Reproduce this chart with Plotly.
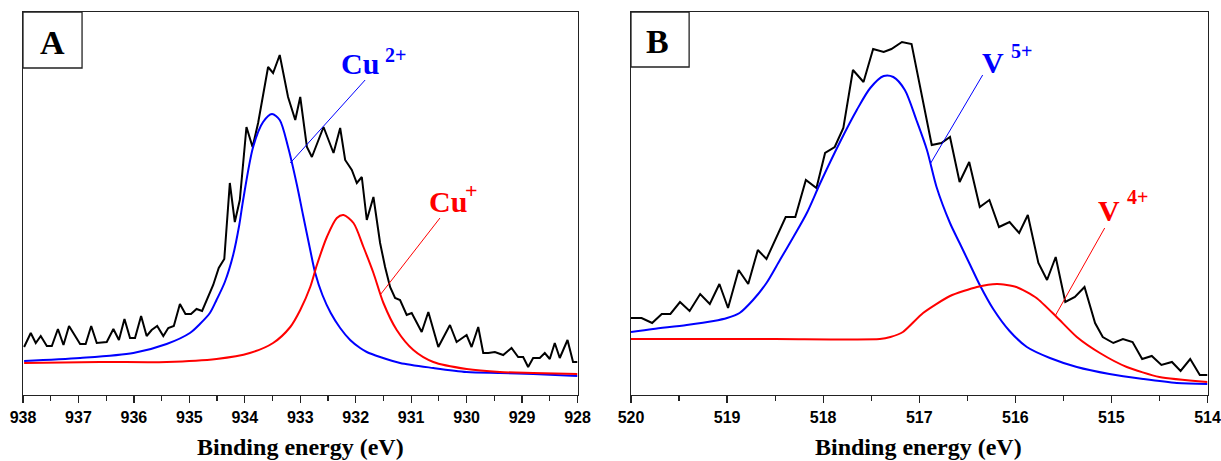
import plotly.graph_objects as go

# ---------------- Panel A : Cu 2p ----------------
a_be = [937.98, 937.86, 937.77, 937.68, 937.57, 937.48, 937.37, 937.27, 937.17, 936.97,
        936.87, 936.77, 936.67, 936.49, 936.37, 936.27, 936.17, 936.07, 935.98, 935.87,
        935.77, 935.68, 935.58, 935.47, 935.38, 935.28, 935.17, 935.07, 934.97, 934.87,
        934.77, 934.68, 934.57, 934.47, 934.37, 934.27, 934.18, 934.09, 933.97, 933.86,
        933.76, 933.58, 933.49, 933.37, 933.22, 933.09, 933.00, 932.88, 932.79, 932.58,
        932.40, 932.28, 932.19, 932.07, 931.98, 931.89, 931.80, 931.68, 931.56, 931.47,
        931.38, 931.29, 931.20, 931.08, 930.99, 930.81, 930.69, 930.51, 930.30, 930.18,
        930.00, 929.91, 929.79, 929.70, 929.61, 929.49, 929.34, 929.19, 929.07, 928.98,
        928.89, 928.80, 928.68, 928.59, 928.50, 928.41, 928.32, 928.18, 928.08, 928.00]
a_raw = [48, 62, 52, 59, 49, 49, 66, 50, 69, 51,
         51, 69, 52, 53, 66, 55, 76, 57, 57, 79,
         59, 65, 69, 59, 67, 69, 91, 81, 81, 86,
         84, 95, 110, 127, 136, 212, 173, 195, 268, 248,
         272, 328, 322, 340, 298, 275, 298, 248, 238, 268,
         242, 267, 235, 225, 212, 218, 175, 198, 152, 128,
         108, 97, 95, 80, 82, 63, 83, 48, 70, 53,
         60, 48, 68, 42, 42, 43, 40, 47, 38, 38,
         28, 37, 37, 42, 36, 52, 37, 55, 33, 33]

a_cu2_be = [937.98, 936.97, 936.01, 935.41, 934.99, 934.81, 934.63, 934.51, 934.36, 934.21,
            934.10, 934.03, 933.85, 933.67, 933.51, 933.37, 933.22, 933.06, 932.95, 932.82,
            932.73, 932.60, 932.45, 932.28, 932.10, 931.92, 931.80, 931.56, 931.20, 930.60,
            930.00, 929.40, 928.80, 928.00]
a_cu2 = [34, 37, 42, 51, 62, 71, 82, 95, 113, 140,
         170, 195, 248, 273, 281, 275, 248, 210, 180, 145,
         122, 100, 82, 67, 55, 47, 43, 38, 32, 27,
         23, 22, 21, 19]

a_cu1_be = [937.98, 936.61, 935.41, 934.51, 933.91, 933.49, 933.18, 933.00, 932.82, 932.70,
            932.52, 932.34, 932.22, 932.04, 931.86, 931.68, 931.50, 931.26, 930.96, 930.60,
            930.00, 929.40, 928.80, 928.00]
a_cu1 = [32, 33, 33, 36, 42, 52, 68, 85, 108, 130,
         158, 177, 180, 172, 148, 122, 92, 65, 45, 33,
         26, 23, 22, 21]

# ---------------- Panel B : V 2p3/2 ----------------
b_be = [520.00, 519.89, 519.78, 519.68, 519.59, 519.49, 519.39, 519.28, 519.18, 519.08,
        518.99, 518.88, 518.78, 518.68, 518.59, 518.48, 518.39, 518.29, 518.18, 518.07,
        517.98, 517.88, 517.79, 517.69, 517.58, 517.48, 517.37, 517.29, 517.18, 517.08,
        516.87, 516.77, 516.68, 516.58, 516.48, 516.37, 516.27, 516.17, 516.06, 515.96,
        515.87, 515.76, 515.67, 515.58, 515.48, 515.38, 515.28, 515.17, 515.09, 514.98,
        514.88, 514.78, 514.68, 514.58, 514.48, 514.37, 514.28, 514.18, 514.08, 514.00]
b_raw = [77, 77, 72, 81, 81, 93, 84, 101, 91, 111,
         87, 125, 111, 145, 136, 160, 178, 178, 215, 207,
         242, 248, 267, 325, 313, 346, 343, 346, 353, 351,
         250, 252, 258, 213, 233, 188, 195, 168, 173, 162,
         180, 132, 115, 138, 93, 98, 108, 72, 58, 52,
         56, 53, 36, 39, 30, 33, 24, 36, 20, 20]

b_v5_be = [520.00, 519.77, 519.42, 519.14, 519.00, 518.87, 518.73, 518.59, 518.45, 518.31,
           518.17, 518.03, 517.83, 517.65, 517.51, 517.37, 517.27, 517.15, 517.03, 516.92,
           516.82, 516.68, 516.58, 516.47, 516.37, 516.23, 516.06, 515.88, 515.64, 515.36,
           515.02, 514.67, 514.32, 514.00]
b_v5 = [63, 66, 70, 74, 77, 82, 95, 112, 135, 158,
        182, 212, 252, 285, 307, 319, 318, 305, 275, 245,
        208, 172, 152, 130, 110, 86, 64, 48, 37, 28,
        21, 16, 12, 11]

b_v4_be = [520.00, 518.50, 517.41, 517.30, 517.17, 516.96, 516.68, 516.40, 516.19, 515.99,
           515.78, 515.57, 515.36, 515.12, 514.84, 514.50, 514.00]
b_v4 = [56, 56, 56, 58, 63, 82, 99, 108, 111, 108,
        97, 78, 58, 42, 28, 18, 13]

a_ticks = [938, 937, 936, 935, 934, 933, 932, 931, 930, 929, 928]
b_ticks = [520, 519, 518, 517, 516, 515, 514]

BLUE = "#0000FF"
RED = "#FF0000"
SERIF = "Liberation Serif"

fig = go.Figure()
fig.add_trace(go.Scatter(x=a_be, y=a_raw, mode="lines", line=dict(color="black", width=2),
                         xaxis="x", yaxis="y", showlegend=False))
fig.add_trace(go.Scatter(x=a_cu2_be, y=a_cu2, mode="lines",
                         line=dict(color=BLUE, width=2, shape="spline", smoothing=0.8),
                         xaxis="x", yaxis="y", showlegend=False))
fig.add_trace(go.Scatter(x=a_cu1_be, y=a_cu1, mode="lines",
                         line=dict(color=RED, width=2, shape="spline", smoothing=0.8),
                         xaxis="x", yaxis="y", showlegend=False))
fig.add_trace(go.Scatter(x=b_be, y=b_raw, mode="lines", line=dict(color="black", width=2),
                         xaxis="x2", yaxis="y2", showlegend=False))
fig.add_trace(go.Scatter(x=b_v5_be, y=b_v5, mode="lines",
                         line=dict(color=BLUE, width=2, shape="spline", smoothing=0.8),
                         xaxis="x2", yaxis="y2", showlegend=False))
fig.add_trace(go.Scatter(x=b_v4_be, y=b_v4, mode="lines",
                         line=dict(color=RED, width=2, shape="spline", smoothing=0.6),
                         xaxis="x2", yaxis="y2", showlegend=False))

W, H = 1221, 461
axis_common = dict(showline=True, mirror=True, linecolor="#222", linewidth=1.3,
                   showgrid=False, zeroline=False, ticks="outside", ticklen=7,
                   tickwidth=1.2, tickcolor="#222", automargin=False,
                   tickfont=dict(family="Liberation Sans", size=16, color="black", weight="bold"),
                   minor=dict(dtick=0.5, ticks="outside", ticklen=5, tickwidth=1.2, tickcolor="#222"))
yaxis_common = dict(showline=True, mirror=True, linecolor="#222", linewidth=1.3,
                    showgrid=False, zeroline=False, showticklabels=False, ticks="",
                    range=[0, 383], automargin=False)

fig.update_layout(
    width=W, height=H,
    margin=dict(l=0, r=0, t=12, b=66, autoexpand=False),
    paper_bgcolor="white", plot_bgcolor="white",
    hovermode=False,
    xaxis=dict(domain=[23 / W, 577.5 / W], range=[938, 928], tickvals=a_ticks,
               anchor="y", **axis_common),
    yaxis=dict(domain=[0, 1], anchor="x", **yaxis_common),
    xaxis2=dict(domain=[631 / W, 1207.5 / W], range=[520, 514], tickvals=b_ticks,
                anchor="y2", **axis_common),
    yaxis2=dict(domain=[0, 1], anchor="x2", **yaxis_common),
)

shapes = [
    # panel label boxes
    dict(type="rect", xref="x", yref="y", x0=938, x1=936.935, y0=327, y1=383,
         line=dict(color="#222", width=1.3), fillcolor="white"),
    dict(type="rect", xref="x2", yref="y2", x0=520, x1=519.395, y0=328, y1=383,
         line=dict(color="#222", width=1.3), fillcolor="white"),
    # leader lines
    dict(type="line", xref="x", yref="y", x0=933.18, y0=232, x1=931.83, y1=315,
         line=dict(color=BLUE, width=1)),
    dict(type="line", xref="x", yref="y", x0=931.56, y0=100, x1=930.48, y1=177,
         line=dict(color=RED, width=1)),
    dict(type="line", xref="x2", yref="y2", x0=516.88, y0=232, x1=516.34, y1=320,
         line=dict(color=BLUE, width=1)),
    dict(type="line", xref="x2", yref="y2", x0=515.58, y0=80, x1=515.07, y1=167,
         line=dict(color=RED, width=1)),
]
fig.update_layout(shapes=shapes)

def ann(text, x, y, xref, yref, size, color, xanchor="center", yanchor="middle"):
    return dict(text=text, x=x, y=y, xref=xref, yref=yref, showarrow=False,
                xanchor=xanchor, yanchor=yanchor,
                font=dict(family=SERIF, size=size, color=color, weight="bold"))

annotations = [
    ann("A", 937.47, 353, "x", "y", 34, "black"),
    ann("B", 519.72, 354, "x2", "y2", 34, "black"),
    ann("Cu", 931.92, 332, "x", "y", 30, BLUE),
    ann("2+", 931.29, 340, "x", "y", 20, BLUE),
    ann("Cu", 930.33, 194, "x", "y", 30, RED),
    ann("+", 929.92, 205, "x", "y", 22, RED),
    ann("V", 516.23, 333, "x2", "y2", 30, BLUE),
    ann("5+", 515.94, 344, "x2", "y2", 20, BLUE),
    ann("V", 515.03, 185, "x2", "y2", 30, RED),
    ann("4+", 514.73, 198, "x2", "y2", 20, RED),
    ann("Binding energy (eV)", 300 / W, -0.137, "paper", "paper", 24, "black"),
    ann("Binding energy (eV)", 919 / W, -0.137, "paper", "paper", 24, "black"),
]
fig.update_layout(annotations=annotations)

fig.write_html("out.html",
               config={"displayModeBar": False, "staticPlot": True},
               post_script="document.body.style.margin='0px';document.body.style.overflow='hidden';")
